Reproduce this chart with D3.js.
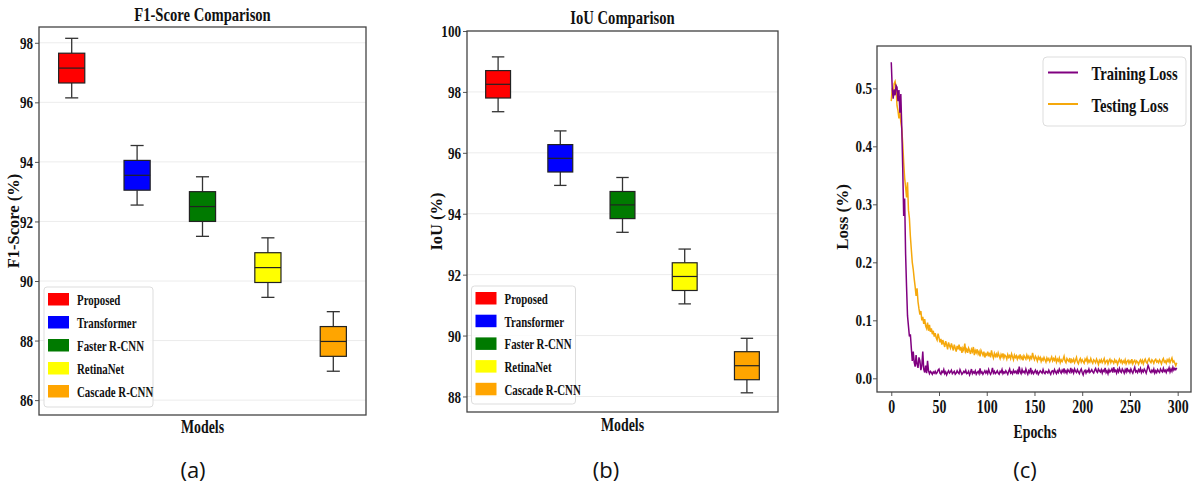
<!DOCTYPE html>
<html>
<head>
<meta charset="utf-8">
<script src="https://cdn.jsdelivr.net/npm/d3@7"></script>
<style>
  body { margin: 0; background: #fff; }
  svg text { font-family: "Liberation Serif", "Times New Roman", serif; font-weight: bold; fill: #111; }
  svg text.sub { font-family: "Open Sans", "Noto Sans", sans-serif; font-weight: normal; }
</style>
</head>
<body>
<div id="graphic"></div>
<script>
// ---- data ----
const models = ["Proposed", "Transformer", "Faster R-CNN", "RetinaNet", "Cascade R-CNN"];
const modelColors = ["#ff0000", "#0000ff", "#007a00", "#ffff00", "#ffa500"];

// [whisker low, Q1, median, Q3, whisker high]
const f1Stats = [
  [96.15, 96.65, 97.15, 97.65, 98.15],
  [92.55, 93.05, 93.55, 94.05, 94.55],
  [91.50, 92.00, 92.50, 93.00, 93.50],
  [89.45, 89.95, 90.45, 90.95, 91.45],
  [86.97, 87.47, 87.97, 88.47, 88.97]
];
const iouStats = [
  [97.35, 97.80, 98.25, 98.70, 99.15],
  [94.93, 95.37, 95.82, 96.27, 96.72],
  [93.39, 93.84, 94.29, 94.73, 95.19],
  [91.04, 91.48, 91.94, 92.39, 92.84],
  [88.12, 88.55, 89.01, 89.47, 89.91]
];
const f1Ticks = [86, 88, 90, 92, 94, 96, 98];
const iouTicks = [88, 90, 92, 94, 96, 98, 100];

const trainLoss = [
  0.545,0.500,0.482,0.498,0.488,0.505,0.502,0.478,0.497,0.458,
  0.490,0.432,0.362,0.280,0.310,0.215,0.158,0.108,0.090,0.072,
  0.076,0.052,0.030,0.046,0.028,0.020,0.040,0.024,0.018,0.036,
  0.030,0.014,0.022,0.046,0.016,0.010,0.022,0.009,0.030,0.013,
  0.008,0.012,0.010,0.007,0.011,0.009,0.012,0.008,0.010,0.014,
  0.016,0.009,0.007,0.012,0.010,0.015,0.008,0.011,0.006,0.010,
  0.013,0.009,0.011,0.014,0.008,0.010,0.012,0.007,0.009,0.013,
  0.010,0.008,0.015,0.011,0.007,0.009,0.012,0.010,0.014,0.008,
  0.009,0.012,0.006,0.010,0.016,0.008,0.011,0.009,0.013,0.007,
  0.010,0.012,0.008,0.017,0.009,0.011,0.007,0.010,0.013,0.009,
  0.012,0.008,0.015,0.010,0.007,0.011,0.018,0.009,0.012,0.008,
  0.010,0.013,0.009,0.007,0.012,0.010,0.015,0.008,0.011,0.009,
  0.013,0.010,0.007,0.012,0.016,0.009,0.011,0.008,0.014,0.010,
  0.012,0.009,0.013,0.007,0.020,0.011,0.008,0.015,0.010,0.012,
  0.009,0.016,0.011,0.007,0.013,0.010,0.018,0.009,0.012,0.008,
  0.011,0.014,0.009,0.012,0.007,0.010,0.013,0.011,0.009,0.015,
  0.010,0.008,0.012,0.011,0.009,0.014,0.010,0.007,0.012,0.013,
  0.009,0.015,0.011,0.008,0.013,0.010,0.016,0.012,0.009,0.014,
  0.011,0.017,0.010,0.013,0.009,0.015,0.012,0.010,0.018,0.011,
  0.014,0.009,0.016,0.012,0.010,0.015,0.011,0.008,0.013,0.016,
  0.010,0.006,0.012,0.014,0.009,0.013,0.011,0.016,0.010,0.012,
  0.015,0.011,0.009,0.014,0.017,0.012,0.010,0.016,0.013,0.011,
  0.015,0.009,0.014,0.012,0.018,0.010,0.013,0.008,0.015,0.011,
  0.013,0.016,0.010,0.019,0.012,0.014,0.009,0.015,0.011,0.017,
  0.012,0.010,0.016,0.013,0.009,0.015,0.011,0.018,0.012,0.014,
  0.010,0.016,0.012,0.009,0.014,0.019,0.011,0.013,0.010,0.015,
  0.012,0.017,0.010,0.014,0.011,0.016,0.013,0.009,0.015,0.022,
  0.018,0.012,0.010,0.014,0.011,0.016,0.009,0.013,0.010,0.015,
  0.012,0.010,0.016,0.013,0.011,0.017,0.012,0.014,0.010,0.015,
  0.013,0.018,0.011,0.016,0.012,0.019,0.014,0.017,0.015,0.018
];
const testLoss = [
  0.478,0.500,0.488,0.508,0.512,0.502,0.470,0.462,0.448,0.460,
  0.442,0.430,0.405,0.372,0.345,0.330,0.312,0.338,0.290,0.276,
  0.245,0.222,0.200,0.188,0.172,0.158,0.142,0.155,0.132,0.120,
  0.110,0.116,0.100,0.106,0.094,0.102,0.090,0.086,0.096,0.082,
  0.092,0.080,0.086,0.076,0.082,0.072,0.078,0.070,0.066,0.077,
  0.070,0.062,0.068,0.058,0.066,0.060,0.054,0.064,0.058,0.050,
  0.062,0.056,0.052,0.060,0.054,0.048,0.058,0.052,0.046,0.056,
  0.050,0.058,0.048,0.054,0.044,0.052,0.048,0.060,0.046,0.050,
  0.044,0.052,0.048,0.042,0.050,0.046,0.054,0.040,0.048,0.044,
  0.050,0.042,0.046,0.038,0.048,0.044,0.040,0.046,0.036,0.042,
  0.040,0.046,0.038,0.044,0.036,0.048,0.040,0.035,0.043,0.038,
  0.042,0.036,0.044,0.039,0.034,0.041,0.037,0.043,0.035,0.040,
  0.038,0.033,0.041,0.036,0.039,0.034,0.042,0.037,0.032,0.040,
  0.036,0.039,0.033,0.038,0.035,0.041,0.034,0.037,0.031,0.039,
  0.036,0.033,0.040,0.035,0.038,0.032,0.037,0.034,0.044,0.036,
  0.032,0.038,0.035,0.030,0.037,0.033,0.036,0.029,0.034,0.031,
  0.036,0.032,0.028,0.035,0.031,0.034,0.029,0.033,0.037,0.030,
  0.034,0.031,0.036,0.028,0.033,0.030,0.035,0.027,0.032,0.029,
  0.033,0.038,0.030,0.027,0.034,0.031,0.029,0.035,0.026,0.032,
  0.029,0.033,0.027,0.031,0.036,0.028,0.025,0.031,0.034,0.028,
  0.032,0.029,0.026,0.033,0.030,0.035,0.027,0.031,0.028,0.034,
  0.029,0.026,0.032,0.030,0.027,0.033,0.029,0.024,0.031,0.028,
  0.032,0.027,0.030,0.034,0.026,0.029,0.031,0.025,0.030,0.033,
  0.027,0.031,0.029,0.026,0.032,0.028,0.030,0.024,0.029,0.033,
  0.028,0.031,0.026,0.030,0.027,0.032,0.025,0.029,0.031,0.026,
  0.030,0.027,0.033,0.025,0.029,0.031,0.026,0.030,0.028,0.024,
  0.029,0.032,0.027,0.031,0.025,0.030,0.033,0.028,0.026,0.031,
  0.034,0.029,0.027,0.032,0.030,0.026,0.031,0.033,0.028,0.030,
  0.027,0.032,0.029,0.025,0.031,0.034,0.028,0.030,0.026,0.032,
  0.029,0.033,0.027,0.031,0.035,0.028,0.030,0.026,0.022,0.027
];
const lossTicksY = [0.0, 0.1, 0.2, 0.3, 0.4, 0.5];
const lossTicksX = [0, 50, 100, 150, 200, 250, 300];

// ---- drawing ----
const SX = 0.75; // the serif text in the picture is squeezed horizontally
const svg = d3.select("#graphic").append("svg")
  .attr("width", 1193).attr("height", 490);

function label(g, x, y, s, size, anchor, rot) {
  const tf = rot ? `translate(${x},${y}) rotate(-90)` : `translate(${x},${y}) scale(${SX},1)`;
  return g.append("text")
    .attr("transform", tf)
    .attr("text-anchor", anchor || "middle")
    .style("font-size", size + "px")
    .text(s);
}

function styleAxis(g, size) {
  g.select(".domain").remove();
  g.selectAll(".tick line").attr("stroke", "#555").attr("stroke-width", 1);
  g.selectAll(".tick text")
    .attr("fill", "#111")
    .style("font-size", size + "px")
    .style("font-family", "'Liberation Serif', serif")
    .style("font-weight", "bold");
}

function boxPanel(opts) {
  const { left, right, top, bottom, domain, ticks, stats, title, yLabel } = opts;
  const g = svg.append("g");

  const y = d3.scaleLinear().domain(domain).range([bottom, top]);
  const x = d3.scaleBand().domain(models).range([left, right])
    .paddingInner(0.6).paddingOuter(0.3);

  // grid
  g.selectAll(".grid").data(ticks).join("line")
    .attr("x1", left).attr("x2", right)
    .attr("y1", d => y(d)).attr("y2", d => y(d))
    .attr("stroke", "#ececec").attr("stroke-width", 1);

  // y axis
  const ax = g.append("g").attr("transform", `translate(${left},0)`)
    .call(d3.axisLeft(y).tickValues(ticks).tickFormat(d3.format("d")).tickSize(4).tickPadding(5));
  styleAxis(ax, 17.5);
  ax.selectAll(".tick text").attr("transform", `scale(${SX},1)`).attr("x", -6 / SX);

  // boxes
  const bw = x.bandwidth();
  const box = g.selectAll(".box").data(stats).join("g")
    .attr("transform", (d, i) => `translate(${x(models[i]) + bw / 2},0)`);
  box.append("line").attr("y1", d => y(d[0])).attr("y2", d => y(d[1]))
    .attr("stroke", "#333").attr("stroke-width", 1.3);
  box.append("line").attr("y1", d => y(d[3])).attr("y2", d => y(d[4]))
    .attr("stroke", "#333").attr("stroke-width", 1.3);
  box.append("line").attr("x1", -bw / 4).attr("x2", bw / 4)
    .attr("y1", d => y(d[0])).attr("y2", d => y(d[0]))
    .attr("stroke", "#333").attr("stroke-width", 1.3);
  box.append("line").attr("x1", -bw / 4).attr("x2", bw / 4)
    .attr("y1", d => y(d[4])).attr("y2", d => y(d[4]))
    .attr("stroke", "#333").attr("stroke-width", 1.3);
  box.append("rect")
    .attr("x", -bw / 2).attr("width", bw)
    .attr("y", d => y(d[3])).attr("height", d => y(d[1]) - y(d[3]))
    .attr("fill", (d, i) => modelColors[i])
    .attr("stroke", "#222").attr("stroke-width", 1.2);
  box.append("line").attr("x1", -bw / 2).attr("x2", bw / 2)
    .attr("y1", d => y(d[2])).attr("y2", d => y(d[2]))
    .attr("stroke", "#222").attr("stroke-width", 1.2);

  // frame
  g.append("rect").attr("x", left).attr("y", top)
    .attr("width", right - left).attr("height", bottom - top)
    .attr("fill", "none").attr("stroke", "#444").attr("stroke-width", 1.3);

  // legend
  const L = opts.legend;
  const lg = g.append("g").attr("transform", `translate(${L.x},${L.y})`);
  lg.append("rect").attr("width", L.w).attr("height", L.h).attr("rx", 3)
    .attr("fill", "#fff").attr("fill-opacity", 0.85)
    .attr("stroke", "#ddd").attr("stroke-width", 1);
  models.forEach((m, i) => {
    lg.append("rect").attr("x", 4).attr("y", 6 + i * L.step)
      .attr("width", 21).attr("height", 12.5).attr("fill", modelColors[i]);
    label(lg, 33, 18 + i * L.step, m, 14.5, "start");
  });

  label(g, (left + right) / 2, opts.titleY, title, 19.5);
  label(g, (left + right) / 2, opts.xLabelY, "Models", 18.5);
  label(g, opts.yLabelX, (top + bottom) / 2, yLabel, 16.5, "middle", true);
}

boxPanel({
  left: 39, right: 366, top: 27, bottom: 415,
  domain: [85.5, 98.53], ticks: f1Ticks, stats: f1Stats,
  title: "F1-Score Comparison", titleY: 20.5, xLabelY: 433,
  yLabel: "F1-Score (%)", yLabelX: 18.5,
  legend: { x: 44, y: 287, w: 109, h: 120, step: 23 }
});

boxPanel({
  left: 467, right: 778, top: 31, bottom: 412,
  domain: [87.49, 100], ticks: iouTicks, stats: iouStats,
  title: "IoU Comparison", titleY: 24, xLabelY: 431,
  yLabel: "IoU (%)", yLabelX: 441.5,
  legend: { x: 471.5, y: 286, w: 104, h: 118, step: 22.7 }
});

// ---- loss panel ----
(function lossPanel() {
  const left = 877, right = 1191, top = 46, bottom = 392;
  const g = svg.append("g");
  const x = d3.scaleLinear().domain([-14.95, 313.95]).range([left, right]);
  const y = d3.scaleLinear().domain([-0.0236, 0.573]).range([bottom, top]);

  const ax = g.append("g").attr("transform", `translate(${left},0)`)
    .call(d3.axisLeft(y).tickValues(lossTicksY).tickFormat(d3.format(".1f")).tickSize(4).tickPadding(4));
  styleAxis(ax, 17.5);
  ax.selectAll(".tick text").attr("transform", `scale(${SX},1)`).attr("x", -5 / SX);

  const bx = g.append("g").attr("transform", `translate(0,${bottom})`)
    .call(d3.axisBottom(x).tickValues(lossTicksX).tickFormat(d3.format("d")).tickSize(4).tickPadding(4));
  styleAxis(bx, 18.5);
  bx.selectAll(".tick text").attr("transform", `scale(${SX},1)`);

  const line = d3.line().x((d, i) => x(i)).y(d => y(d));
  g.append("path").datum(testLoss).attr("d", line)
    .attr("fill", "none").attr("stroke", "#f5a80c").attr("stroke-width", 1.5);
  g.append("path").datum(trainLoss).attr("d", line)
    .attr("fill", "none").attr("stroke", "#800080").attr("stroke-width", 1.5);

  g.append("rect").attr("x", left).attr("y", top)
    .attr("width", right - left).attr("height", bottom - top)
    .attr("fill", "none").attr("stroke", "#444").attr("stroke-width", 1.3);

  // legend
  const lg = g.append("g").attr("transform", "translate(1043,57)");
  lg.append("rect").attr("width", 143).attr("height", 69).attr("rx", 4)
    .attr("fill", "#fff").attr("stroke", "#ddd");
  [["Training Loss", "#800080"], ["Testing Loss", "#f5a80c"]].forEach((d, i) => {
    lg.append("line").attr("x1", 5).attr("x2", 35)
      .attr("y1", 15.5 + i * 31.5).attr("y2", 15.5 + i * 31.5)
      .attr("stroke", d[1]).attr("stroke-width", 2);
    label(lg, 48.5, 23 + i * 31.5, d[0], 19.5, "start");
  });

  label(g, 1035, 438, "Epochs", 18.5);
  label(g, 847.5, (top + bottom) / 2 - 2, "Loss (%)", 17, "middle", true);
})();

// sub-figure labels
[["(a)", 193], ["(b)", 606], ["(c)", 1025]].forEach(d => {
  svg.append("text").attr("class", "sub")
    .attr("x", d[1]).attr("y", 478).attr("text-anchor", "middle")
    .style("font-size", "22px").text(d[0]);
});
</script>
</body>
</html>
